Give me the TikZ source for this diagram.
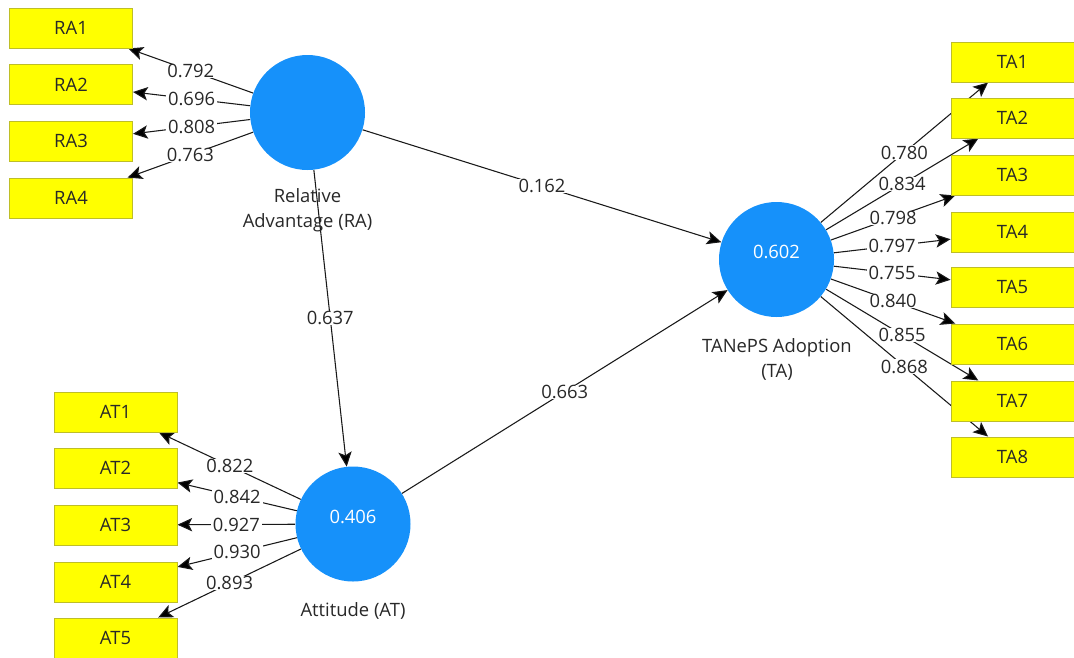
\documentclass[tikz,border=0pt]{standalone}
\usepackage{fontspec}
\setmainfont{Open Sans}
\usetikzlibrary{arrows.meta}
\pgfdeclarelayer{bg}
\pgfdeclarelayer{edges}
\pgfdeclarelayer{labels}
\pgfsetlayers{bg,edges,labels,main}
\definecolor{lvblue}{RGB}{22,145,250}
\definecolor{mvfill}{RGB}{255,255,0}
\definecolor{mvdraw}{RGB}{190,190,40}
\definecolor{txt}{RGB}{40,40,40}
\begin{document}
\begin{tikzpicture}[x=0.75pt,y=-0.75pt,
  font=\fontsize{13.8}{16}\selectfont,
  mv/.style={rectangle, fill=mvfill, draw=mvdraw, line width=0.75pt,
    minimum width=92.25pt, minimum height=30pt, inner sep=0pt, text=txt},
  lv/.style={circle, fill=lvblue, minimum size=86.25pt, inner sep=0pt},
  lvval/.style={text=white, inner sep=0pt},
  lvname/.style={align=center, text=txt, inner sep=0pt,
    font=\fontsize{13.8}{18.75}\selectfont},
  arr/.style={draw=black!90, line width=0.8pt,
    -{Stealth[length=11pt,width=10pt,inset=2.5pt,fill=black]}},
  lbl/.style={fill=white, inner xsep=1.5pt, inner ysep=0.3pt, text=txt},
]
\useasboundingbox (0,0) rectangle (1074,657);
\begin{pgfonlayer}{bg}
\fill[white] (0,0) rectangle (1074,657);
\end{pgfonlayer}

% latent variables
\node[lv] (RA) at (307.5,112.5) {};
\node[lv] (AT) at (353,524) {};
\node[lv] (TA) at (776.5,259.5) {};
\node[lvval] (ATv) at (353,517) {0.406};
\node[lvval] (TAv) at (776.5,252) {0.602};
\node[lvname] (RAn) at (307.5,210.5) {Relative\\Advantage (RA)};
\node[lvname] (ATn) at (353,611) {Attitude (AT)};
\node[lvname] (TAn) at (777,359) {TANePS Adoption\\(TA)};

% indicators
\node[mv] (RA1) at (71,28) {RA1};
\node[mv] (RA2) at (71,84.7) {RA2};
\node[mv] (RA3) at (71,141.4) {RA3};
\node[mv] (RA4) at (71,198.1) {RA4};

\node[mv] (AT1) at (115.5,412) {AT1};
\node[mv] (AT2) at (115.5,468) {AT2};
\node[mv] (AT3) at (115.5,525) {AT3};
\node[mv] (AT4) at (115.5,582) {AT4};
\node[mv] (AT5) at (115.5,638) {AT5};

\node[mv] (TA1) at (1012.5,62) {TA1};
\node[mv] (TA2) at (1012.5,118) {TA2};
\node[mv] (TA3) at (1012.5,175) {TA3};
\node[mv] (TA4) at (1012.5,232) {TA4};
\node[mv] (TA5) at (1012.5,287) {TA5};
\node[mv] (TA6) at (1012.5,344) {TA6};
\node[mv] (TA7) at (1012.5,401) {TA7};
\node[mv] (TA8) at (1012.5,457) {TA8};

% connectors
\begin{pgfonlayer}{edges}
\foreach \i in {1,...,4} {\draw[arr] (RA) -- (RA\i) coordinate[midway] (mRA\i);}
\foreach \i in {1,...,5} {\draw[arr] (AT) -- (AT\i) coordinate[midway] (mAT\i);}
\foreach \i in {1,...,8} {\draw[arr] (TA) -- (TA\i) coordinate[midway] (mTA\i);}
\draw[arr] (RA) -- (TA) coordinate[midway] (mRATA);
\draw[arr] (RA) -- (AT) coordinate[midway] (mRAAT);
\draw[arr] (AT) -- (TA) coordinate[midway] (mATTA);
\end{pgfonlayer}

% loadings and path coefficients
\begin{pgfonlayer}{labels}
\foreach \i/\v in {1/0.792,2/0.696,3/0.808,4/0.763} {\node[lbl] (lRA\i) at (mRA\i) {\v};}
\foreach \i/\v in {1/0.822,2/0.842,3/0.927,4/0.930,5/0.893} {\node[lbl] (lAT\i) at (mAT\i) {\v};}
\foreach \i/\v in {1/0.780,2/0.834,3/0.798,4/0.797,5/0.755,6/0.840,7/0.855,8/0.868} {\node[lbl] (lTA\i) at (mTA\i) {\v};}
\node[lbl] (lRATA) at (mRATA) {0.162};
\node[lbl] (lRAAT) at (mRAAT) {0.637};
\node[lbl] (lATTA) at (mATTA) {0.663};
\end{pgfonlayer}
\end{tikzpicture}
\end{document}
